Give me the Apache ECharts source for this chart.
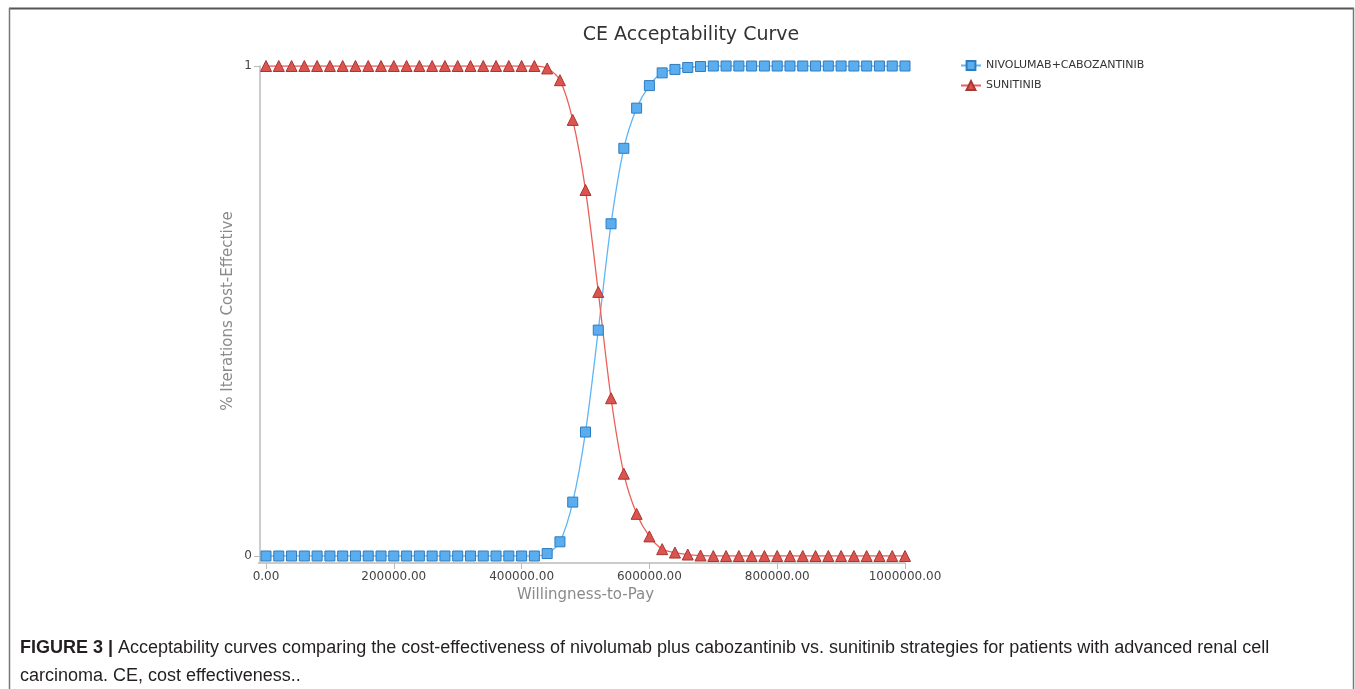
<!DOCTYPE html>
<html>
<head>
<meta charset="utf-8">
<script src="https://cdn.jsdelivr.net/npm/echarts@6/dist/echarts.min.js"></script>
<style>
html,body{margin:0;padding:0;background:#fff;}
#c{width:1355px;height:689px;}
</style>
</head>
<body>
<div id="c"></div>
<script>
const wtp = [0,20000,40000,60000,80000,100000,120000,140000,160000,180000,200000,220000,240000,260000,280000,300000,320000,340000,360000,380000,400000,420000,440000,460000,480000,500000,520000,540000,560000,580000,600000,620000,640000,660000,680000,700000,720000,740000,760000,780000,800000,820000,840000,860000,880000,900000,920000,940000,960000,980000,1000000];
const nivoCabo = [0,0,0,0,0,0,0,0,0,0,0,0,0,0,0,0,0,0,0,0,0,0,0.005,0.029,0.110,0.253,0.461,0.678,0.832,0.914,0.960,0.986,0.993,0.997,0.999,1,1,1,1,1,1,1,1,1,1,1,1,1,1,1,1];
const sunitinib = [1,1,1,1,1,1,1,1,1,1,1,1,1,1,1,1,1,1,1,1,1,1,0.995,0.971,0.890,0.747,0.539,0.322,0.168,0.086,0.040,0.014,0.007,0.003,0.001,0,0,0,0,0,0,0,0,0,0,0,0,0,0,0,0];
const seriesNames = ['NIVOLUMAB+CABOZANTINIB','SUNITINIB'];
const titleText = 'CE Acceptability Curve';
const xName = 'Willingness-to-Pay';
const yName = '% Iterations Cost-Effective';
const captionBold = 'FIGURE 3 |';
const captionLine1 = ' Acceptability curves comparing the cost-effectiveness of nivolumab plus cabozantinib vs. sunitinib strategies for patients with advanced renal cell';
const captionLine2 = 'carcinoma. CE, cost effectiveness..';

const chart = echarts.init(document.getElementById('c'));
const font = 'DejaVu Sans';
chart.setOption({
  animation: false,
  backgroundColor: '#fff',
  title: {
    text: titleText, left: 686, top: 21, textAlign: 'center',
    textStyle: {fontFamily: font, fontSize: 19, fontWeight: 'normal', color: '#333'}
  },
  legend: {
    orient: 'vertical', left: 955, top: 55, itemGap: 9, itemWidth: 20, itemHeight: 11,
    textStyle: {fontFamily: font, fontSize: 11, color: '#333'},
    data: seriesNames
  },
  grid: {left: 266, right: 450, top: 66, bottom: 133, containLabel: false},
  xAxis: {
    type: 'value', min: 0, max: 1000000, interval: 200000, offset: 7,
    name: xName, nameLocation: 'middle', nameGap: 24,
    nameTextStyle: {fontFamily: font, fontSize: 15, color: '#8a8a8a'},
    axisLine: {show: true, onZero: false, lineStyle: {color: '#bbb', width: 1.5}},
    axisTick: {show: true, length: 6, lineStyle: {color: '#bbb'}},
    axisLabel: {fontFamily: font, fontSize: 12, color: '#444', margin: 8,
      formatter: v => v.toFixed(2)},
    splitLine: {show: false}
  },
  yAxis: {
    type: 'value', min: 0, max: 1, interval: 1, offset: 6,
    name: yName, nameLocation: 'middle', nameGap: 24, nameRotate: 90,
    nameTextStyle: {fontFamily: font, fontSize: 15, color: '#8a8a8a'},
    axisLine: {show: true, onZero: false, lineStyle: {color: '#bbb', width: 1.5}},
    axisTick: {show: true, length: 6, lineStyle: {color: '#bbb'}},
    axisLabel: {fontFamily: font, fontSize: 12, color: '#444', margin: 8},
    splitLine: {show: false}
  },
  series: [
    {
      name: seriesNames[0], type: 'line', smooth: 0.3,
      data: wtp.map((x, i) => [x, nivoCabo[i]]),
      symbol: 'rect', symbolSize: 10,
      lineStyle: {color: '#5eb5f7', width: 1.3},
      itemStyle: {color: '#5aaef0', borderColor: '#2f7cbf', borderWidth: 1}
    },
    {
      name: seriesNames[1], type: 'line', smooth: 0.3,
      data: wtp.map((x, i) => [x, sunitinib[i]]),
      symbol: 'triangle', symbolSize: 11,
      lineStyle: {color: '#ec5f58', width: 1.3},
      itemStyle: {color: '#dc544f', borderColor: '#a83632', borderWidth: 1}
    }
  ],
  graphic: [
    {type: 'line', shape: {x1: 9, y1: 8.5, x2: 1354, y2: 8.5}, style: {stroke: '#555', lineWidth: 2}},
    {type: 'line', shape: {x1: 9.5, y1: 8, x2: 9.5, y2: 689}, style: {stroke: '#777', lineWidth: 1.5}},
    {type: 'line', shape: {x1: 1353.5, y1: 8, x2: 1353.5, y2: 689}, style: {stroke: '#777', lineWidth: 1.5}},
    {type: 'line', shape: {x1: 258, y1: 563, x2: 266, y2: 563}, style: {stroke: '#bbb', lineWidth: 1.5}},
    {type: 'line', shape: {x1: 260, y1: 556, x2: 260, y2: 563}, style: {stroke: '#bbb', lineWidth: 1.5}},
    {type: 'text', left: 20, top: 639, style: {
      text: '{b|' + captionBold + '}{r|' + captionLine1 + '}',
      rich: {
        b: {fontFamily: 'Liberation Sans', fontWeight: 'bold', fontSize: 18, fill: '#231f20'},
        r: {fontFamily: 'Liberation Sans', fontSize: 18, fill: '#231f20'}
      }
    }},
    {type: 'text', left: 20, top: 667, style: {
      text: captionLine2, fontFamily: 'Liberation Sans', fontSize: 18, fill: '#231f20'
    }}
  ]
});
</script>
</body>
</html>
